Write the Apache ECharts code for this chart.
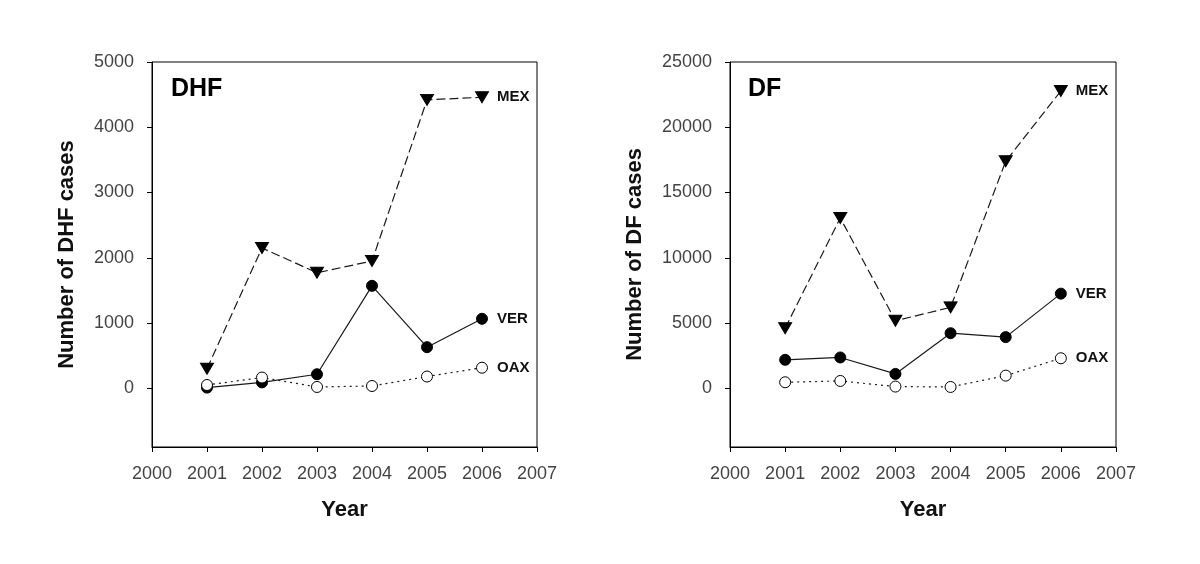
<!DOCTYPE html>
<html><head><meta charset="utf-8">
<script src="https://cdn.jsdelivr.net/npm/echarts@6/dist/echarts.min.js"></script>
<style>html,body{margin:0;padding:0;background:#fff}#c{width:1200px;height:564px}</style>
</head><body><div id="c"></div>
<script>
const years = [2001, 2002, 2003, 2004, 2005, 2006];
const xTicks = [2000, 2001, 2002, 2003, 2004, 2005, 2006, 2007];
const dhfTicks = [0, 1000, 2000, 3000, 4000, 5000];
const dfTicks = [0, 5000, 10000, 15000, 20000, 25000];
const dhfMEX = [300, 2150, 1770, 1950, 4420, 4460];
const dhfVER = [10, 90, 215, 1570, 630, 1065];
const dhfOAX = [50, 165, 20, 35, 180, 315];
const dfMEX = [4600, 13050, 5170, 6200, 17400, 22780];
const dfVER = [2180, 2360, 1100, 4220, 3920, 7250];
const dfOAX = [460, 560, 130, 100, 970, 2300];
const seriesNames = ['MEX', 'VER', 'OAX'];

const FONT = 'Arial, "Liberation Sans", sans-serif';
const pair = arr => years.map((y, i) => [y, arr[i]]);

function xAxis(idx) {
  return {
    type: 'value', gridIndex: idx, min: 2000, max: 2007, interval: 1,
    name: 'Year', nameLocation: 'middle', nameGap: 52,
    nameTextStyle: {fontFamily: FONT, fontWeight: 'bold', fontSize: 22, color: '#111'},
    axisLine: {show: true, onZero: false, lineStyle: {color: '#000', width: 1}},
    axisTick: {show: true, inside: false, length: 5, customValues: xTicks, lineStyle: {color: '#000'}},
    axisLabel: {fontFamily: FONT, fontSize: 18, color: '#444', margin: 18, customValues: xTicks, formatter: v => String(v)},
    splitLine: {show: false}
  };
}
function yAxis(idx, min, max, ticks, name, gap) {
  return {
    type: 'value', gridIndex: idx, min: min, max: max,
    name: name, nameLocation: 'middle', nameGap: gap,
    nameTextStyle: {fontFamily: FONT, fontWeight: 'bold', fontSize: 22, color: '#111'},
    axisLine: {show: true, onZero: false, lineStyle: {color: '#000', width: 1}},
    axisTick: {show: true, inside: false, length: 5, customValues: ticks, lineStyle: {color: '#000'}},
    axisLabel: {fontFamily: FONT, fontSize: 18, color: '#444', margin: 18, customValues: ticks, formatter: v => String(v)},
    splitLine: {show: false}
  };
}
const lblStyle = {show: true, fontFamily: FONT, fontWeight: 'bold', fontSize: 15, color: '#111', distance: 15};
function mk(idx, name, data, kind) {
  const s = {
    type: 'line', name: name, xAxisIndex: idx, yAxisIndex: idx, data: pair(data),
    lineStyle: {color: '#1a1a1a', width: 1.2}, itemStyle: {color: '#000', borderColor: '#000', borderWidth: 1},
    symbolSize: 11, animation: false,
    endLabel: Object.assign({formatter: name}, lblStyle)
  };
  if (kind === 'MEX') {
    s.symbol = 'triangle'; s.symbolRotate = 180; s.symbolSize = [13, 11];
    s.lineStyle.type = [9, 4];
  } else if (kind === 'VER') {
    s.symbol = 'circle';
  } else {
    s.symbol = 'circle'; s.itemStyle = {color: '#fff', borderColor: '#000', borderWidth: 1};
    s.lineStyle.type = [2, 4];
  }
  return s;
}

const chart = echarts.init(document.getElementById('c'), null, {renderer: 'canvas'});
chart.setOption({
  backgroundColor: '#fff',
  animation: false,
  title: [
    {text: 'DHF', left: 166, top: 72, textStyle: {fontFamily: FONT, fontWeight: 'bold', fontSize: 25, color: '#000'}},
    {text: 'DF', left: 743, top: 72, textStyle: {fontFamily: FONT, fontWeight: 'bold', fontSize: 25, color: '#000'}}
  ],
  grid: [
    {left: 152, top: 62, width: 385, height: 385, show: true, borderColor: '#000', borderWidth: 1, backgroundColor: 'transparent'},
    {left: 730, top: 62, width: 386, height: 385, show: true, borderColor: '#000', borderWidth: 1, backgroundColor: 'transparent'}
  ],
  xAxis: [xAxis(0), xAxis(1)],
  yAxis: [
    yAxis(0, -900, 5000, dhfTicks, 'Number of DHF cases', 74),
    yAxis(1, -4500, 25000, dfTicks, 'Number of DF cases', 84)
  ],
  series: [
    mk(0, seriesNames[0], dhfMEX, 'MEX'),
    mk(0, seriesNames[1], dhfVER, 'VER'),
    mk(0, seriesNames[2], dhfOAX, 'OAX'),
    mk(1, seriesNames[0], dfMEX, 'MEX'),
    mk(1, seriesNames[1], dfVER, 'VER'),
    mk(1, seriesNames[2], dfOAX, 'OAX')
  ]
});
</script></body></html>
